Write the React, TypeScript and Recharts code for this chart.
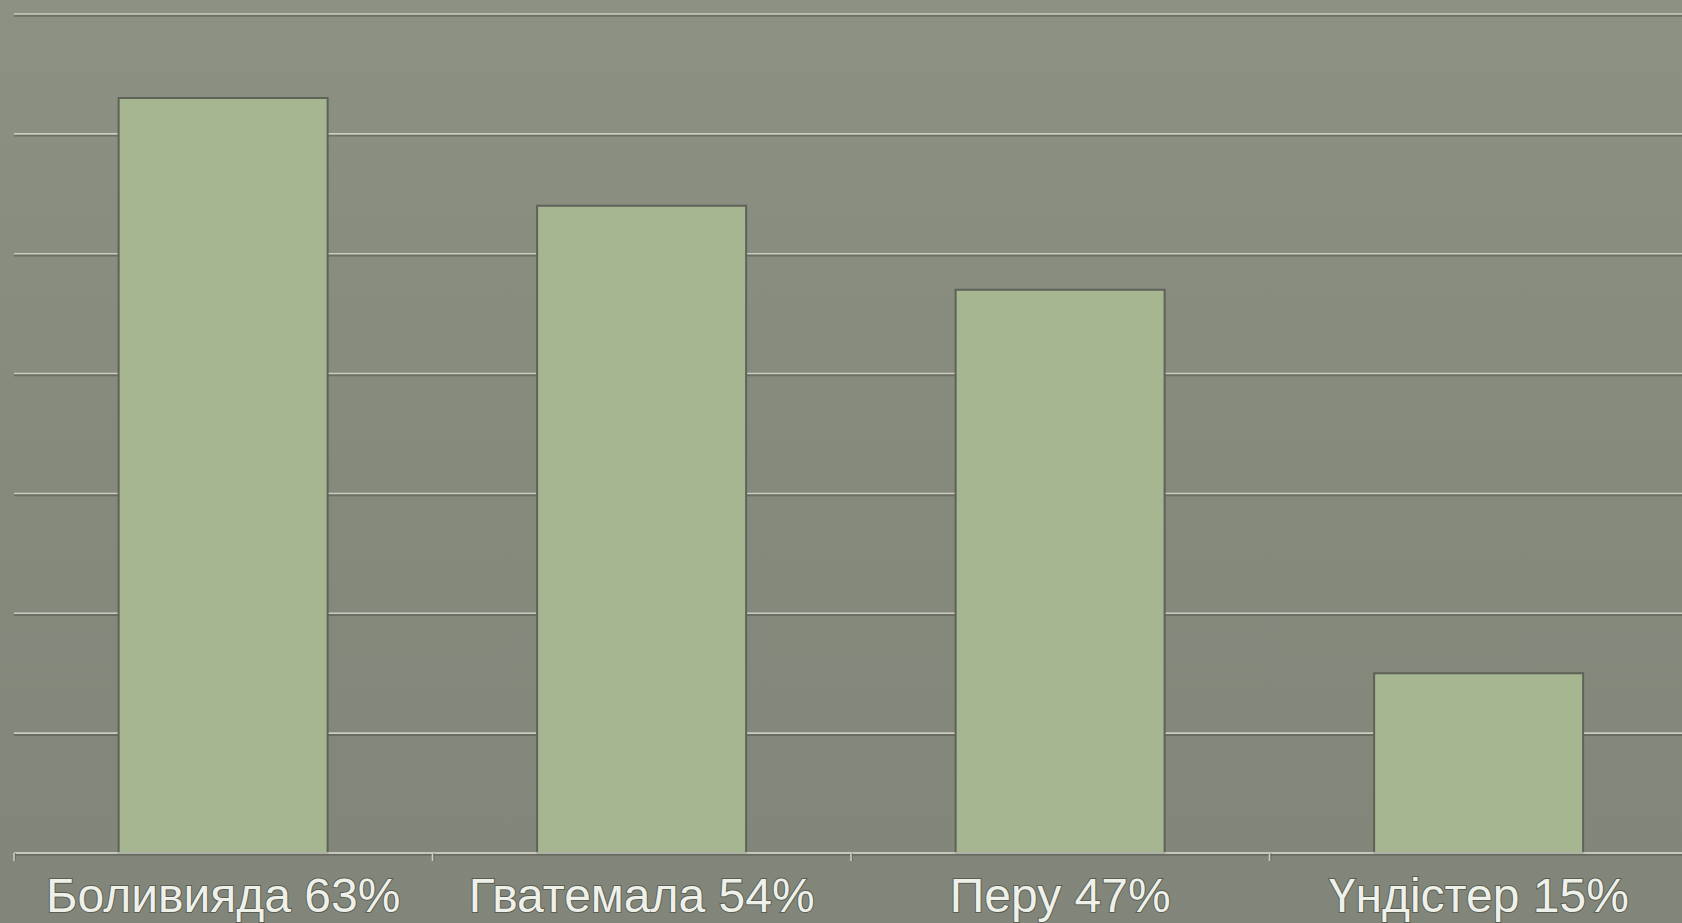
import React from "react";
import { BarChart, Bar, XAxis, YAxis, CartesianGrid } from "recharts";

const categories = ["Боливияда 63%", "Гватемала 54%", "Перу 47%", "Үндістер 15%"];
const values = [63, 54, 47, 15];
const yTicks = [0, 10, 20, 30, 40, 50, 60, 70];

const data = categories.map((name, i) => ({ name, value: values[i] }));

const LIGHT = "#c9ccbf";
const DARK = "#5e6257";

const GridLine = (props: any) => {
  const { x1, x2, y1, y2 } = props;
  return (
    <g>
      <line x1={x1} x2={x2} y1={y1 + 1.5} y2={y2 + 1.5} stroke={DARK} strokeWidth={2.5} strokeOpacity={0.7} />
      <line x1={x1} x2={x2} y1={y1} y2={y2} stroke={LIGHT} strokeWidth={1.6} />
    </g>
  );
};

const Tick = (props: any) => {
  const { x, y, payload, width, visibleTicksCount, index } = props;
  const bw = width / visibleTicksCount;
  const left = x - bw / 2;
  const right = x + bw / 2;
  const tickMark = (tx: number, key: string) => (
    <g key={key}>
      <line x1={tx + 1} x2={tx + 1} y1={y} y2={y + 8} stroke={DARK} strokeWidth={2} strokeOpacity={0.6} />
      <line x1={tx} x2={tx} y1={y} y2={y + 8} stroke={LIGHT} strokeWidth={1.6} />
    </g>
  );
  return (
    <g>
      {tickMark(left, "l")}
      {index === visibleTicksCount - 1 ? tickMark(right, "r") : null}
      <text
        x={x}
        y={y + 59}
        textAnchor="middle"
        fontFamily="'Liberation Sans', Arial, sans-serif"
        fontSize={48}
        fill="#eef0ea"
        stroke="#5a5e53"
        strokeWidth={2}
        paintOrder="stroke"
      >
        {payload.value}
      </text>
    </g>
  );
};

export default function App() {
  return (
    <div
      style={{
        position: "absolute",
        left: 0,
        top: 0,
        width: 1682,
        height: 923,
        overflow: "hidden",
        background: "linear-gradient(180deg, #8d9184 0%, #868a7d 50%, #82867a 100%)",
      }}
    >
      <BarChart
        width={1700}
        height={923}
        data={data}
        margin={{ top: 14, left: 14, right: 12, bottom: 10 }}
        barCategoryGap="25%"
      >
        <CartesianGrid vertical={false} horizontal={(p: any) => <GridLine key={p.key} {...p} />} />
        <YAxis hide domain={[0, 70]} ticks={yTicks} type="number" />
        <XAxis
          dataKey="name"
          height={60}
          interval={0}
          tickSize={0}
          tickMargin={0}
          tickLine={false}
          axisLine={{ stroke: LIGHT, strokeWidth: 1.6 }}
          tick={<Tick />}
        />
        <Bar
          dataKey="value"
          fill="#a6b691"
          stroke={DARK}
          strokeWidth={2}
          isAnimationActive={false}
        />
      </BarChart>
    </div>
  );
}
